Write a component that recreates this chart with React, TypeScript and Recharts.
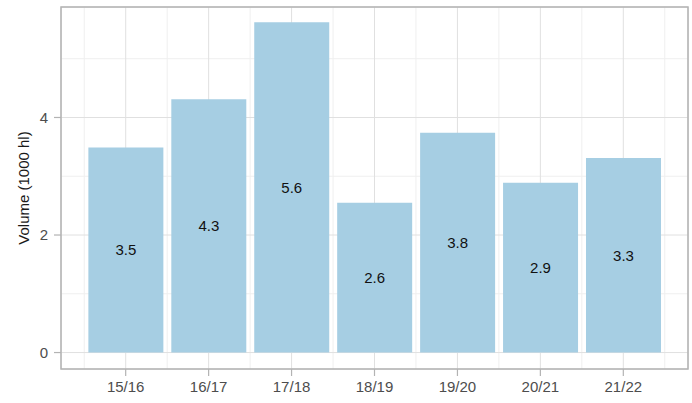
import React from 'react';
import {
  BarChart,
  Bar,
  XAxis,
  YAxis,
  CartesianGrid,
  ReferenceArea,
  LabelList,
} from 'recharts';

const categories = ['15/16', '16/17', '17/18', '18/19', '19/20', '20/21', '21/22'];
const volumes = [3.49, 4.31, 5.62, 2.55, 3.74, 2.89, 3.31];
const valueLabels = ['3.5', '4.3', '5.6', '2.6', '3.8', '2.9', '3.3'];
const yTicks = [0, 2, 4];
const yMinorTicks = [1, 3, 5];
const xDomain: [number, number] = [0.22, 7.78];
const yDomain: [number, number] = [-0.28, 5.88];

const data = categories.map((c, i) => ({
  pos: i + 1,
  cat: c,
  value: volumes[i],
  label: valueLabels[i],
}));
const xTicks = data.map((d) => d.pos);
const xMinorTicks = [0.5, ...data.map((d) => d.pos + 0.5)];

const FONT = '"Liberation Sans", Arial, Helvetica, sans-serif';
const GRID_MAJOR = '#E0E0E0';
const GRID_MINOR = '#EFEFEF';
const BORDER = '#B3B3B3';
const TICK_TEXT = '#4D4D4D';

const scaleOf = (axis: any) => {
  const s = axis?.scale;
  if (!s) return null;
  if (typeof s === 'function') return s;
  if (typeof s.map === 'function') return (v: number) => s.map(v);
  return null;
};

const minorX = ({ xAxis }: any) => {
  const s = scaleOf(xAxis);
  return s ? xMinorTicks.map((v) => s(v)) : [];
};
const minorY = ({ yAxis }: any) => {
  const s = scaleOf(yAxis);
  return s ? yMinorTicks.map((v) => s(v)) : [];
};

const YTitle = (props: any) => {
  const vb = props.viewBox || {};
  const cx = 23;
  const cy = (vb.y ?? 0) + (vb.height ?? 0) / 2;
  return (
    <text
      x={cx}
      y={cy}
      transform={`rotate(-90, ${cx}, ${cy})`}
      textAnchor="middle"
      dominantBaseline="central"
      fontFamily={FONT}
      fontSize={15}
      fill="#1a1a1a"
    >
      Volume (1000 hl)
    </text>
  );
};

export default function App() {
  return (
    <div style={{ position: 'absolute', left: 0, top: 0, width: 692, height: 403, background: '#fff' }}>
      <BarChart
        width={692}
        height={403}
        data={data}
        margin={{ top: 7, right: 4, left: 0, bottom: 0 }}
        barCategoryGap="5%"
      >
        <CartesianGrid
          stroke={GRID_MINOR}
          strokeWidth={1}
          verticalCoordinatesGenerator={minorX}
          horizontalCoordinatesGenerator={minorY}
        />
        <CartesianGrid stroke={GRID_MAJOR} strokeWidth={1} />
        <XAxis
          dataKey="pos"
          type="number"
          domain={xDomain}
          ticks={xTicks}
          allowDataOverflow
          tickFormatter={(v: number) => categories[v - 1] ?? ''}
          height={34}
          axisLine={false}
          tickLine={{ stroke: BORDER, strokeWidth: 1.2 }}
          tickSize={7}
          tickMargin={5}
          tick={{ fill: TICK_TEXT, fontSize: 15, fontFamily: FONT }}
          interval={0}
        />
        <YAxis
          type="number"
          domain={yDomain}
          ticks={yTicks}
          allowDataOverflow
          width={61}
          axisLine={false}
          tickLine={{ stroke: BORDER, strokeWidth: 1.2 }}
          tickSize={7}
          tickMargin={6}
          tick={{ fill: TICK_TEXT, fontSize: 15, fontFamily: FONT }}
          label={<YTitle />}
        />
        <Bar dataKey="value" fill="#A6CEE3" isAnimationActive={false}>
          <LabelList
            dataKey="label"
            position="center"
            fill="#111"
            fontSize={15}
            fontFamily={FONT}
          />
        </Bar>
        <ReferenceArea
          x1={xDomain[0]}
          x2={xDomain[1]}
          y1={yDomain[0]}
          y2={yDomain[1]}
          fill="none"
          fillOpacity={0}
          stroke={BORDER}
          strokeWidth={1.5}
          ifOverflow="visible"
        />
      </BarChart>
    </div>
  );
}
